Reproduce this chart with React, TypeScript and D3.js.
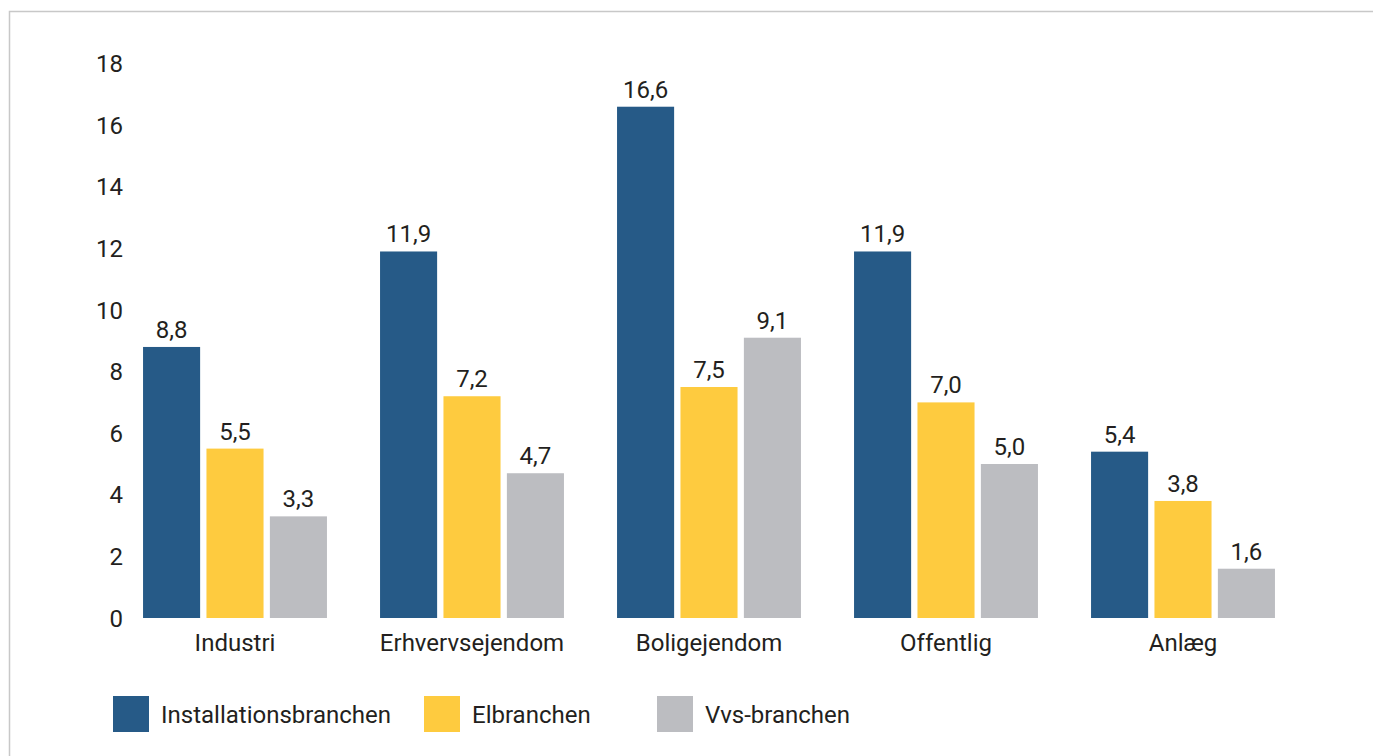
import React, { useEffect, useRef } from 'react'
import * as d3 from 'd3'

const categories = ['Industri', 'Erhvervsejendom', 'Boligejendom', 'Offentlig', 'Anlæg']
const seriesNames = ['Installationsbranchen', 'Elbranchen', 'Vvs-branchen']
const installation = [8.8, 11.9, 16.6, 11.9, 5.4]
const el = [5.5, 7.2, 7.5, 7.0, 3.8]
const vvs = [3.3, 4.7, 9.1, 5.0, 1.6]
const yTicks = [0, 2, 4, 6, 8, 10, 12, 14, 16, 18]
const colors = ['#265a87', '#fecb3f', '#bcbdc1']

const W = 1373
const H = 756
const FONT = 'Roboto, "Noto Sans", sans-serif'
const TEXT = '#231f20'

export default function App() {
  const ref = useRef<SVGSVGElement | null>(null)

  useEffect(() => {
    if (!ref.current) return
    const svg = d3.select(ref.current)
    svg.selectAll('*').remove()

    const series = [installation, el, vvs]

    // frame
    svg
      .append('rect')
      .attr('x', 9.5)
      .attr('y', 11.5)
      .attr('width', W + 20)
      .attr('height', H + 20)
      .attr('fill', 'none')
      .attr('stroke', '#c8c8c8')
      .attr('stroke-width', 1.5)

    const y = d3.scaleLinear().domain([0, 18]).range([618, 63.6])
    const x0 = d3
      .scaleBand<string>()
      .domain(categories)
      .range([116.5, 1301.5])
      .paddingInner(0.224)
      .paddingOuter(0.112)
    const x1 = d3
      .scaleBand<number>()
      .domain([0, 1, 2])
      .range([0, x0.bandwidth()])
      .paddingInner(0.1)

    const fmt = (v: number) => d3.format('.1f')(v).replace('.', ',')

    // y tick labels
    svg
      .append('g')
      .selectAll('text')
      .data(yTicks)
      .join('text')
      .attr('x', 123)
      .attr('y', (d) => y(d))
      .attr('dy', '0.36em')
      .attr('text-anchor', 'end')
      .attr('font-family', FONT)
      .attr('font-size', 24)
      .attr('fill', TEXT)
      .text((d) => d)

    const groups = svg
      .append('g')
      .selectAll('g')
      .data(categories)
      .join('g')
      .attr('transform', (d) => `translate(${x0(d)},0)`)

    groups
      .selectAll('rect')
      .data((_, i) => series.map((s, k) => ({ k, v: s[i] })))
      .join('rect')
      .attr('x', (d) => x1(d.k)!)
      .attr('width', x1.bandwidth())
      .attr('y', (d) => y(d.v))
      .attr('height', (d) => y(0) - y(d.v))
      .attr('fill', (d) => colors[d.k])

    groups
      .selectAll('text.val')
      .data((_, i) => series.map((s, k) => ({ k, v: s[i] })))
      .join('text')
      .attr('class', 'val')
      .attr('x', (d) => x1(d.k)! + x1.bandwidth() / 2)
      .attr('y', (d) => y(d.v) - 9)
      .attr('text-anchor', 'middle')
      .attr('font-family', FONT)
      .attr('font-size', 24)
      .attr('fill', TEXT)
      .text((d) => fmt(d.v))

    // category labels
    svg
      .append('g')
      .selectAll('text')
      .data(categories)
      .join('text')
      .attr('x', (d) => x0(d)! + x0.bandwidth() / 2)
      .attr('y', 651)
      .attr('text-anchor', 'middle')
      .attr('font-family', FONT)
      .attr('font-size', 24)
      .attr('fill', TEXT)
      .text((d) => d)

    // legend
    const legendX = [113, 424, 657]
    const legend = svg
      .append('g')
      .selectAll('g')
      .data(seriesNames)
      .join('g')
      .attr('transform', (_, i) => `translate(${legendX[i]},696)`)
    legend
      .append('rect')
      .attr('width', 36)
      .attr('height', 36)
      .attr('fill', (_, i) => colors[i])
    legend
      .append('text')
      .attr('x', 48)
      .attr('y', 18)
      .attr('dy', '0.36em')
      .attr('font-family', FONT)
      .attr('font-size', 24)
      .attr('fill', TEXT)
      .text((d) => d)
  }, [])

  return (
    <svg
      ref={ref}
      width={W}
      height={H}
      style={{ position: 'absolute', left: 0, top: 0, display: 'block', background: '#fff' }}
    />
  )
}
